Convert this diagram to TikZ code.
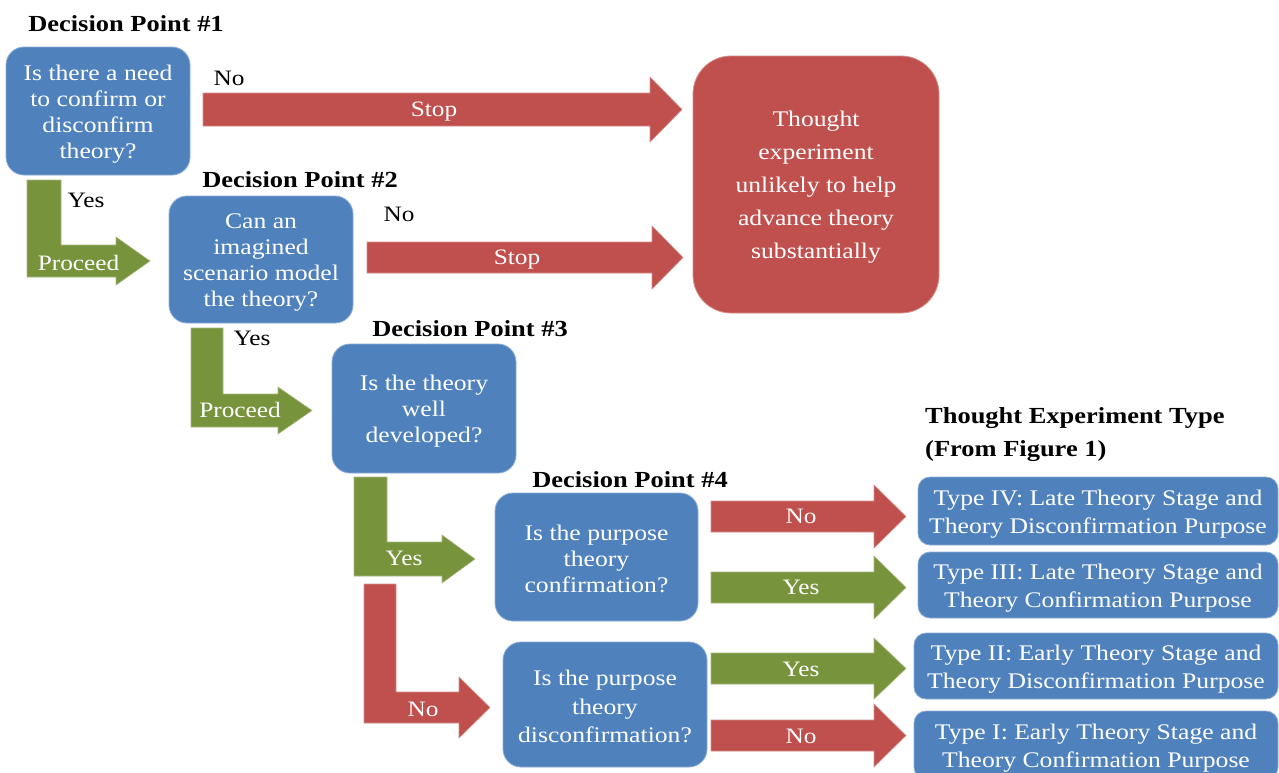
\documentclass[tikz,border=0pt]{standalone}
\usepackage{fontspec}
\setmainfont{Liberation Serif}[FakeStretch=1.15]
\definecolor{qblue}{RGB}{79,129,189}
\definecolor{qred}{RGB}{192,80,77}
\definecolor{qgreen}{RGB}{119,147,60}
\tikzset{
  qbox/.style={rectangle, rounded corners=18pt, fill=qblue, draw=qblue!65!white, line width=0.8pt, inner sep=0pt},
  bigred/.style={rectangle, rounded corners=38pt, fill=qred, draw=qred!65!white, line width=0.8pt, inner sep=0pt},
  typebox/.style={rectangle, rounded corners=12pt, fill=qblue, draw=qblue!65!white, line width=0.8pt, inner sep=0pt},
  boxtext/.style={text=white, align=center, inner sep=0pt, yshift=-3pt, font=\fontsize{22.3}{26}\selectfont},
  titlelab/.style={anchor=base, inner sep=0pt, text=black, font=\fontsize{23}{33}\selectfont\bfseries},
  blklab/.style={anchor=base, inner sep=0pt, text=black, font=\fontsize{22}{26}\selectfont},
  whtlab/.style={anchor=base, inner sep=0pt, text=white, font=\fontsize{22}{26}\selectfont},
  redarrow/.style={fill=qred, draw=qred!65!white, line width=0.6pt},
  greenarrow/.style={fill=qgreen, draw=qgreen!65!white, line width=0.6pt}
}
\begin{document}
\begin{tikzpicture}[x=1pt,y=-1pt]
\useasboundingbox (0,0) rectangle (1279,772);
\fill[white] (0,0) rectangle (1279,772);

% titles
\node[titlelab] (t1) at (126,31) {Decision Point \#1};
\node[titlelab] (t2) at (300,187) {Decision Point \#2};
\node[titlelab] (t3) at (470,336) {Decision Point \#3};
\node[titlelab] (t4) at (630,487) {Decision Point \#4};
\node[titlelab, anchor=base west, align=left] (t5) at (925,456) {Thought Experiment Type\\(From Figure 1)};

% decision boxes
\node[qbox, minimum width=184pt, minimum height=128pt] (b1) at (98,111) {};
\node[boxtext] (b1t) at (b1.center) {Is there a need\\to confirm or\\disconfirm\\theory?};
\node[qbox, minimum width=184pt, minimum height=127pt] (b2) at (261,259.5) {};
\node[boxtext] (b2t) at (b2.center) {Can an\\imagined\\scenario model\\the theory?};
\node[qbox, minimum width=184pt, minimum height=129pt] (b3) at (424,408.5) {};
\node[boxtext] (b3t) at (b3.center) {Is the theory\\well\\developed?};
\node[qbox, minimum width=203pt, minimum height=128pt] (b4) at (596.5,557) {};
\node[boxtext, yshift=1pt] (b4t) at (b4.center) {Is the purpose\\theory\\confirmation?};
\node[qbox, minimum width=204pt, minimum height=125pt] (b5) at (605,704.5) {};
\node[boxtext, yshift=1pt, font=\fontsize{22.3}{28.5}\selectfont] (b5t) at (b5.center) {Is the purpose\\theory\\disconfirmation?};

% stop box
\node[bigred, minimum width=246pt, minimum height=257pt] (stop) at (816,184.5) {};
\node[boxtext, font=\fontsize{22.3}{33}\selectfont] (stopt) at (stop.center)
  {Thought\\experiment\\unlikely to help\\advance theory\\substantially};

% type boxes
\node[typebox, minimum width=360pt, minimum height=68pt] (ty4) at (1098,511) {};
\node[boxtext, font=\fontsize{22.3}{28.5}\selectfont] (ty4t) at (ty4.center)
  {Type IV: Late Theory Stage and\\Theory Disconfirmation Purpose};
\node[typebox, minimum width=360pt, minimum height=66pt] (ty3) at (1098,585) {};
\node[boxtext, font=\fontsize{22.3}{28.5}\selectfont] (ty3t) at (ty3.center)
  {Type III: Late Theory Stage and\\Theory Confirmation Purpose};
\node[typebox, minimum width=364pt, minimum height=66pt] (ty2) at (1096,666) {};
\node[boxtext, font=\fontsize{22.3}{28.5}\selectfont] (ty2t) at (ty2.center)
  {Type II: Early Theory Stage and\\Theory Disconfirmation Purpose};
\node[typebox, minimum width=364pt, minimum height=68pt] (ty1) at (1096,745) {};
\node[boxtext, font=\fontsize{22.3}{28.5}\selectfont] (ty1t) at (ty1.center)
  {Type I: Early Theory Stage and\\Theory Confirmation Purpose};

% straight block arrows to stop box
\draw[redarrow] (203,93) -- (650,93) -- (650,77) -- (682,109.5) -- (650,142) -- (650,126) -- (203,126) -- cycle;
\draw[redarrow] (367,242) -- (652,242) -- (652,226) -- (683,257.5) -- (652,289) -- (652,273) -- (367,273) -- cycle;

% bent arrows
\draw[greenarrow] (27,180) -- (61,180) -- (61,245) -- (116,245) -- (116,237) -- (150,261) -- (116,285) -- (116,277) -- (27,277) -- cycle;
\draw[greenarrow] (191,328) -- (223,328) -- (223,394) -- (278,394) -- (278,387) -- (312,410.5) -- (278,434) -- (278,427) -- (191,427) -- cycle;
\draw[greenarrow] (354,477) -- (387,477) -- (387,542) -- (442,542) -- (442,535) -- (475,559) -- (442,583) -- (442,576) -- (354,576) -- cycle;
\draw[redarrow] (364,584) -- (396,584) -- (396,692) -- (459,692) -- (459,677) -- (490,707.5) -- (459,738) -- (459,723) -- (364,723) -- cycle;

% right arrows to type boxes
\draw[redarrow] (711,501) -- (874,501) -- (874,485) -- (906,516.5) -- (874,548) -- (874,532) -- (711,532) -- cycle;
\draw[greenarrow] (711,572) -- (874,572) -- (874,556) -- (906,587.5) -- (874,619) -- (874,603) -- (711,603) -- cycle;
\draw[greenarrow] (711,653) -- (874,653) -- (874,638) -- (906,668.5) -- (874,699) -- (874,684) -- (711,684) -- cycle;
\draw[redarrow] (711,720) -- (874,720) -- (874,704) -- (906,735.5) -- (874,767) -- (874,751) -- (711,751) -- cycle;

% black labels
\node[blklab] (n1) at (229,85) {No};
\node[blklab] (y1) at (86,207) {Yes};
\node[blklab] (n2) at (399,221) {No};
\node[blklab] (y2) at (252,345) {Yes};

% white labels on arrows
\node[whtlab] (s1) at (434,116) {Stop};
\node[whtlab] (s2) at (517,264) {Stop};
\node[whtlab] (p1) at (78.5,270) {Proceed};
\node[whtlab] (p2) at (240,417) {Proceed};
\node[whtlab] (y3) at (404,565) {Yes};
\node[whtlab] (n3) at (423,716) {No};
\node[whtlab] (r1) at (801,523) {No};
\node[whtlab] (r2) at (801,594) {Yes};
\node[whtlab] (r3) at (801,676) {Yes};
\node[whtlab] (r4) at (801,743) {No};
\end{tikzpicture}
\end{document}
